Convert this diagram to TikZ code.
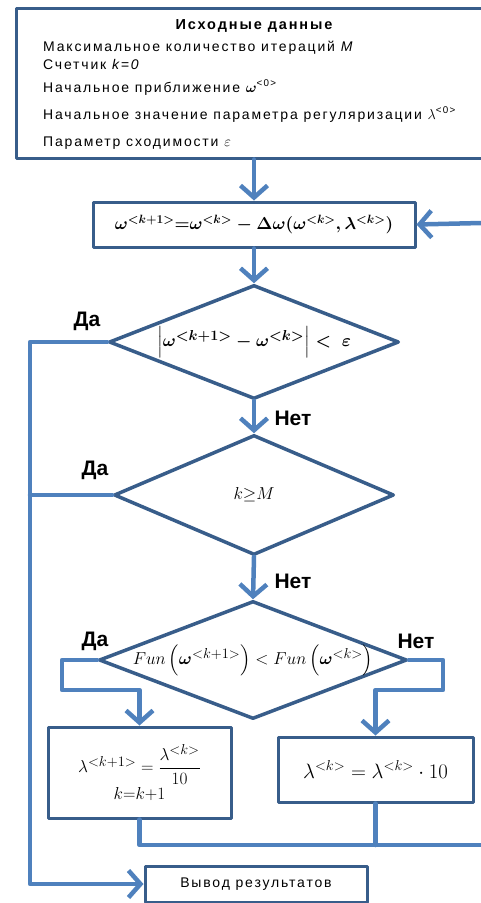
\documentclass[tikz,border=0pt]{standalone}
\usepackage{fontspec}
\setmainfont{Liberation Sans}
\newfontfamily\boxfont[LetterSpace=13]{Liberation Sans}
\usepackage{amsmath,bm}
\usetikzlibrary{shapes.geometric,arrows.meta}
\definecolor{linecol}{RGB}{79,129,189}
\definecolor{edgecol}{RGB}{56,93,138}
\tikzset{
  block/.style={draw=edgecol, line width=3pt, inner sep=0pt, fill=white},
  cond/.style={diamond, draw=edgecol, line width=3.5pt, inner sep=0pt, fill=white},
  conn/.style={draw=linecol, line width=4.5pt},
  arr/.style={conn, -{Straight Barb[length=12pt,width=27pt]}},
  lbl/.style={font=\fontsize{21}{24}\selectfont\bfseries, inner sep=0pt},
  txt/.style={font=\fontsize{14}{16}\boxfont, anchor=base west, inner sep=0pt},
}
\begin{document}
\begin{tikzpicture}[x=1pt, y=-1pt, line cap=round, line join=round]
  \useasboundingbox (0,0) rectangle (481,903);
  \clip (0,0) rectangle (481,903);
  % input data
  \node[block, minimum width=484pt, minimum height=150pt] (input) at (258,83) {};
  \node[font=\fontsize{14.5}{16}\boxfont\bfseries, anchor=base, inner sep=0pt] (title) at (254,29) {Исходные данные};
  \node[txt] (l1) at (43,51) {Максимальное количество итераций \textit{M}};
  \node[txt] (l2) at (43,69) {Счетчик \textit{k=0}};
  \node[txt] (l3) at (43,92) {Начальное приближение $\bm{\omega}^{\text{<0>}}$};
  \node[txt] (l4) at (43,119) {Начальное значение параметра регуляризации $\lambda^{\text{<0>}}$};
  \node[txt] (l5) at (43,146) {Параметр сходимости $\varepsilon$};
  % iteration step
  \node[block, minimum width=322pt, minimum height=45pt, font=\fontsize{18.5}{20}\selectfont\boldmath] (calc) at (254,224.5)
    {$\bm{\omega}^{<k+1>}{=}\bm{\omega}^{<k>} - \Delta\bm{\omega}(\bm{\omega}^{<k>},\lambda^{<k>})$};
  % conditions
  \node[cond, minimum width=290pt, minimum height=114pt, aspect=2.5, font=\fontsize{19}{20}\selectfont\boldmath] (check) at (254,342)
    {$\Bigl|\bm{\omega}^{<k+1>} - \bm{\omega}^{<k>}\Bigr| <\ \varepsilon$};
  \node[cond, minimum width=280pt, minimum height=120pt, aspect=2.3, font=\fontsize{19}{20}\selectfont] (limit) at (254,495)
    {$k{\geq}M$};
  \node[cond, minimum width=308pt, minimum height=118pt,
    label={[inner sep=0pt, font=\fontsize{19}{22}\selectfont]center:$Fun\left(\bm{\omega}^{<k+1>}\right) < Fun\left(\bm{\omega}^{<k>}\right)$}] (compare) at (253,660) {};
  % lambda update
  \node[block, minimum width=183pt, minimum height=91pt, align=center, font=\fontsize{19}{20}\selectfont] (decrease) at (139.5,772.5)
    {$\lambda^{<k+1>} = \dfrac{\lambda^{<k>}}{10}$\\[2pt] $k{=}k{+}1$};
  \node[block, minimum width=195pt, minimum height=65pt, font=\fontsize{20}{22}\selectfont] (increase) at (375.5,769.5)
    {$\lambda^{<k>} = \lambda^{<k>}\cdot 10$};
  \node[block, minimum width=222pt, minimum height=36pt, font=\fontsize{14}{16}\boxfont] (output) at (256,884) {Вывод результатов};
  % bends
  \coordinate (loopin) at (481,223);
  \coordinate (loopout) at (481,845);
  \coordinate (leftbus) at (30,0);
  \coordinate (yesbend) at (62,690);
  \coordinate (nobend) at (443,690);
  % connectors
  \draw[arr] (calc.north |- input.south) -- (calc.north);
  \draw[arr] (loopin) -- (calc.east);
  \draw[arr] (calc.south) -- (check.north);
  \draw[arr] (check.south) -- (limit.north);
  \draw[arr] (limit.south) -- (compare.north);
  \draw[arr] (check.west) -- (check.west -| leftbus) |- (output.west);
  \draw[conn] (limit.west) -- (limit.west -| leftbus);
  \draw[arr] (compare.west) -| (yesbend) -| (decrease.north);
  \draw[arr] (compare.east) -| (nobend) -| (increase.north);
  \draw[conn] (decrease.south) |- (loopout);
  \draw[conn] (increase.south) -- (increase.south |- loopout);
  % labels
  \node[lbl] (yes1) at (87,321) {Да};
  \node[lbl] (yes2) at (95,470) {Да};
  \node[lbl] (yes3) at (95,641) {Да};
  \node[lbl] (no1) at (293,418) {Нет};
  \node[lbl] (no2) at (293,581) {Нет};
  \node[lbl] (no3) at (416,641) {Нет};
\end{tikzpicture}
\end{document}
